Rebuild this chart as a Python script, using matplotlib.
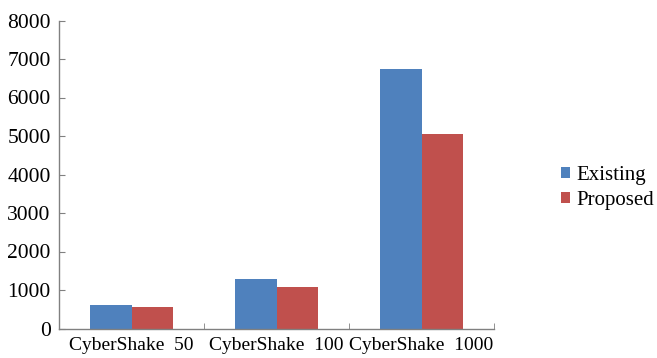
import matplotlib
matplotlib.use("Agg")
import matplotlib.pyplot as plt
import numpy as np

categories = ["CyberShake  50", "CyberShake  100", "CyberShake  1000"]
existing = [600, 1290, 6750]
proposed = [550, 1080, 5040]
series_names = ["Existing", "Proposed"]
y_ticks = [0, 1000, 2000, 3000, 4000, 5000, 6000, 7000, 8000]

plt.rcParams["font.family"] = ["Liberation Serif", "DejaVu Serif"]

fig = plt.figure(figsize=(6.57, 3.58), dpi=100)
ax = fig.add_axes([59 / 657, 1 - 328.5 / 358, (494 - 59) / 657, (328.5 - 20.5) / 358])

x = np.arange(len(categories))
w = 0.283
ax.bar(x - w / 2, existing, w, color="#4F81BD", label=series_names[0])
ax.bar(x + w / 2, proposed, w, color="#C0504D", label=series_names[1])

ax.set_xlim(-0.5, len(categories) - 0.5)
ax.set_ylim(0, 8000)
ax.set_yticks(y_ticks)
ax.set_yticklabels([str(v) for v in y_ticks], fontsize=15.5)
ax.set_xticks(x)
ax.set_xticklabels(categories, fontsize=14)
ax.tick_params(axis="x", length=0, pad=6)
ax.set_xticks(np.arange(len(categories)) + 0.5, minor=True)
ax.tick_params(axis="x", which="minor", direction="in", length=4, color="#808080")
ax.tick_params(axis="y", direction="in", length=4, color="#808080", pad=6)

for s in ["top", "right"]:
    ax.spines[s].set_visible(False)
for s in ["left", "bottom"]:
    ax.spines[s].set_color("#808080")
    ax.spines[s].set_linewidth(1.0)

ax.legend(loc="center left", bbox_to_anchor=(561 / 657, (358 - 188) / 358),
          bbox_transform=fig.transFigure, frameon=False, fontsize=15,
          handlelength=0.45, handleheight=0.45, handletextpad=0.3,
          labelspacing=0.3, borderpad=0, borderaxespad=0)

fig.savefig("out.png", dpi=100)
